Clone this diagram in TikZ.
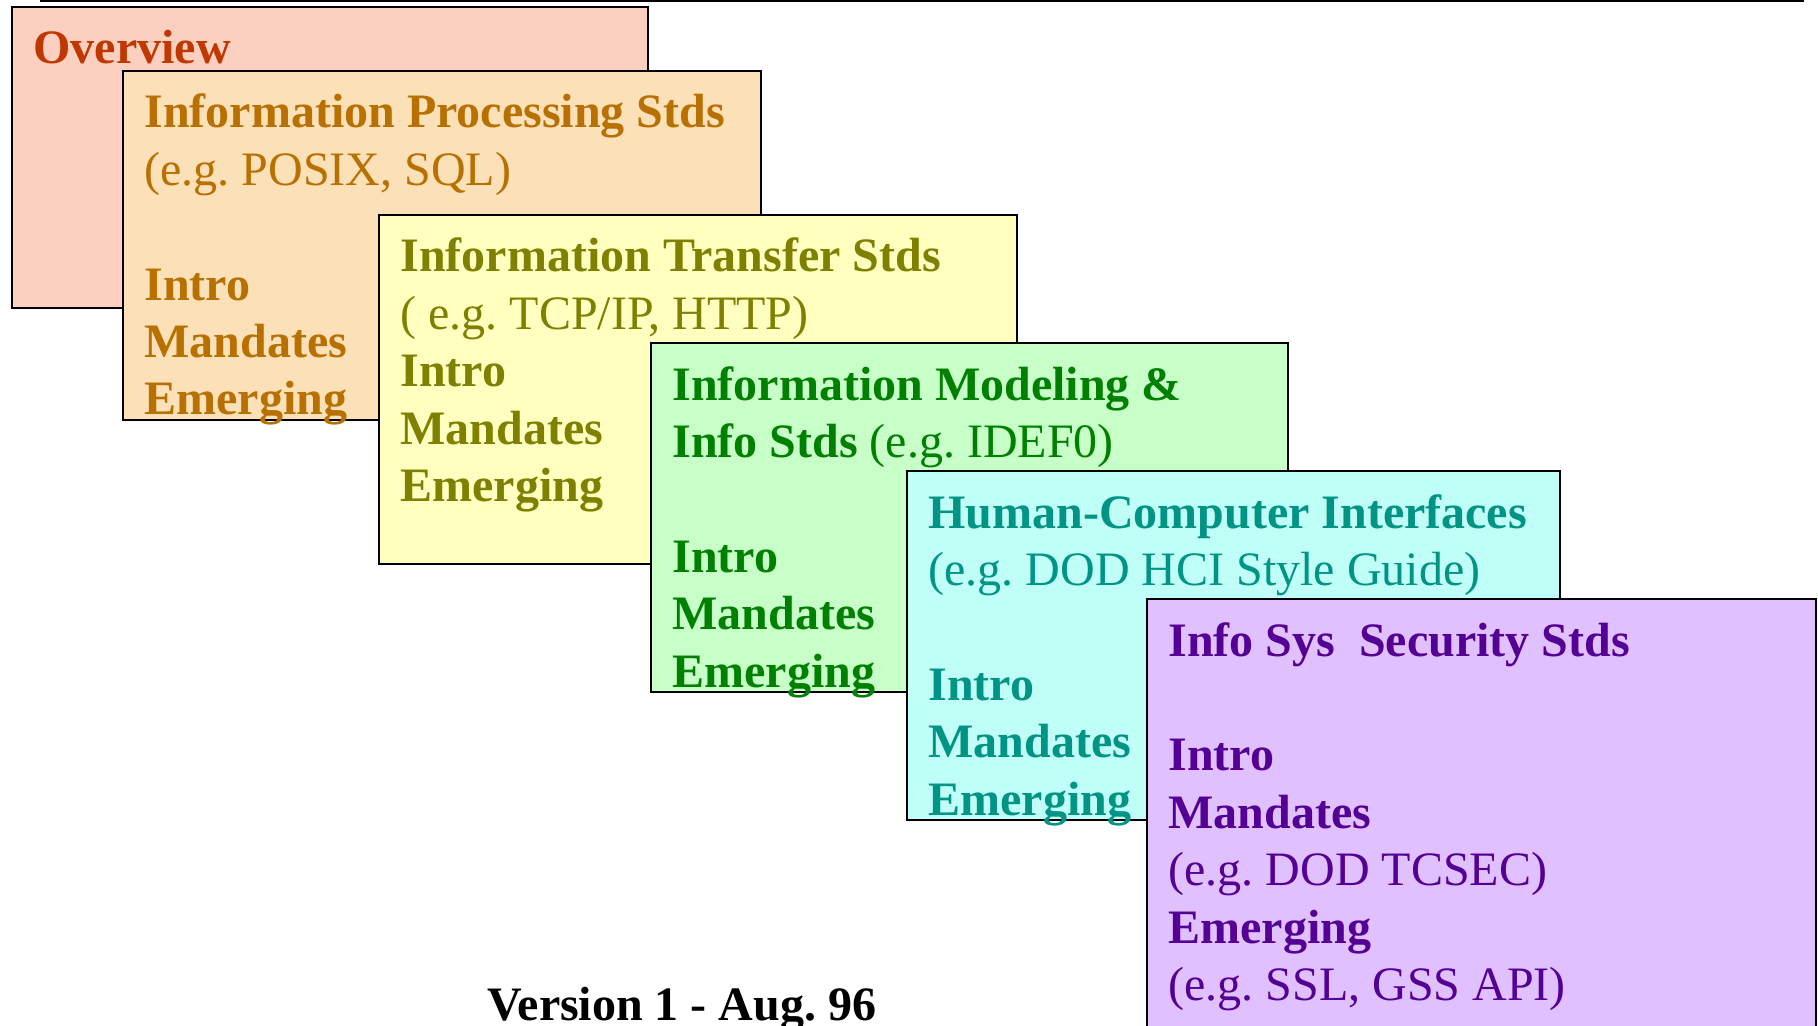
\documentclass[tikz,border=0pt]{standalone}
\usepackage{fontspec}
\setmainfont{Liberation Serif}
\frenchspacing

\definecolor{ovfill}{RGB}{252,208,192}
\definecolor{ovtext}{RGB}{192,56,0}
\definecolor{procfill}{RGB}{252,224,184}
\definecolor{proctext}{RGB}{184,112,0}
\definecolor{transfill}{RGB}{255,255,192}
\definecolor{transtext}{RGB}{128,128,0}
\definecolor{modfill}{RGB}{200,255,200}
\definecolor{modtext}{RGB}{0,128,0}
\definecolor{hcifill}{RGB}{192,255,248}
\definecolor{hcitext}{RGB}{0,148,132}
\definecolor{secfill}{RGB}{224,192,255}
\definecolor{sectext}{RGB}{84,0,148}

\tikzset{
  card/.style={draw=black, line width=1pt, rectangle, anchor=north west,
    inner sep=0pt, outer sep=0pt, minimum height=174.5pt},
  cardtext/.style={anchor=base west, inner sep=0pt,
    font=\fontsize{24}{28.7}\selectfont},
}

\begin{document}
\begin{tikzpicture}[x=0.5pt,y=-0.5pt]
  \clip (0,0) rectangle (1818,1026);
  \draw[line width=0.75pt] (40,1) -- (1804,1);

  \node[card, fill=ovfill, minimum width=318pt, minimum height=150.5pt] (overview) at (12,7) {};
  \node[cardtext, text=ovtext] (overviewtxt) at ([shift={(21,57)}]overview.north west)
    {\begin{tabular}[t]{@{}l@{}}\textbf{Overview}\end{tabular}};

  \node[card, fill=procfill, minimum width=319pt] (proc) at (123,71) {};
  \node[cardtext, text=proctext] (proctxt) at ([shift={(21,57)}]proc.north west)
    {\begin{tabular}[t]{@{}l@{}}\textbf{Information Processing Stds}\\
      (e.g. POSIX, SQL)\\ \\
      \textbf{Intro}\\ \textbf{Mandates}\\ \textbf{Emerging}\end{tabular}};

  \node[card, fill=transfill, minimum width=319pt] (trans) at (379,215) {};
  \node[cardtext, text=transtext] (transtxt) at ([shift={(21,57)}]trans.north west)
    {\begin{tabular}[t]{@{}l@{}}\textbf{Information Transfer Stds}\\
      ( e.g. TCP/IP, HTTP)\\
      \textbf{Intro}\\ \textbf{Mandates}\\ \textbf{Emerging}\end{tabular}};

  \node[card, fill=modfill, minimum width=318.5pt] (model) at (651,343) {};
  \node[cardtext, text=modtext] (modeltxt) at ([shift={(21,57)}]model.north west)
    {\begin{tabular}[t]{@{}l@{}}\textbf{Information Modeling \&}\\
      \textbf{Info Stds} (e.g. IDEF0)\\ \\
      \textbf{Intro}\\ \textbf{Mandates}\\ \textbf{Emerging}\end{tabular}};

  \node[card, fill=hcifill, minimum width=326.5pt] (hci) at (907,471) {};
  \node[cardtext, text=hcitext] (hcitxt) at ([shift={(21,57)}]hci.north west)
    {\begin{tabular}[t]{@{}l@{}}\textbf{Human-Computer Interfaces}\\
      (e.g. DOD HCI Style Guide)\\ \\
      \textbf{Intro}\\ \textbf{Mandates}\\ \textbf{Emerging}\end{tabular}};

  \node[card, fill=secfill, minimum width=334.5pt, minimum height=250pt] (sec) at (1147,599) {};
  \node[cardtext, text=sectext] (sectxt) at ([shift={(21,57)}]sec.north west)
    {\begin{tabular}[t]{@{}l@{}}\textbf{Info Sys\ \ Security Stds}\\ \\
      \textbf{Intro}\\ \textbf{Mandates}\\
      (e.g. DOD TCSEC)\\
      \textbf{Emerging}\\
      (e.g. SSL, GSS API)\end{tabular}};

  \node[cardtext] (version) at (487,1020) {\textbf{Version 1 - Aug. 96}};
\end{tikzpicture}
\end{document}
